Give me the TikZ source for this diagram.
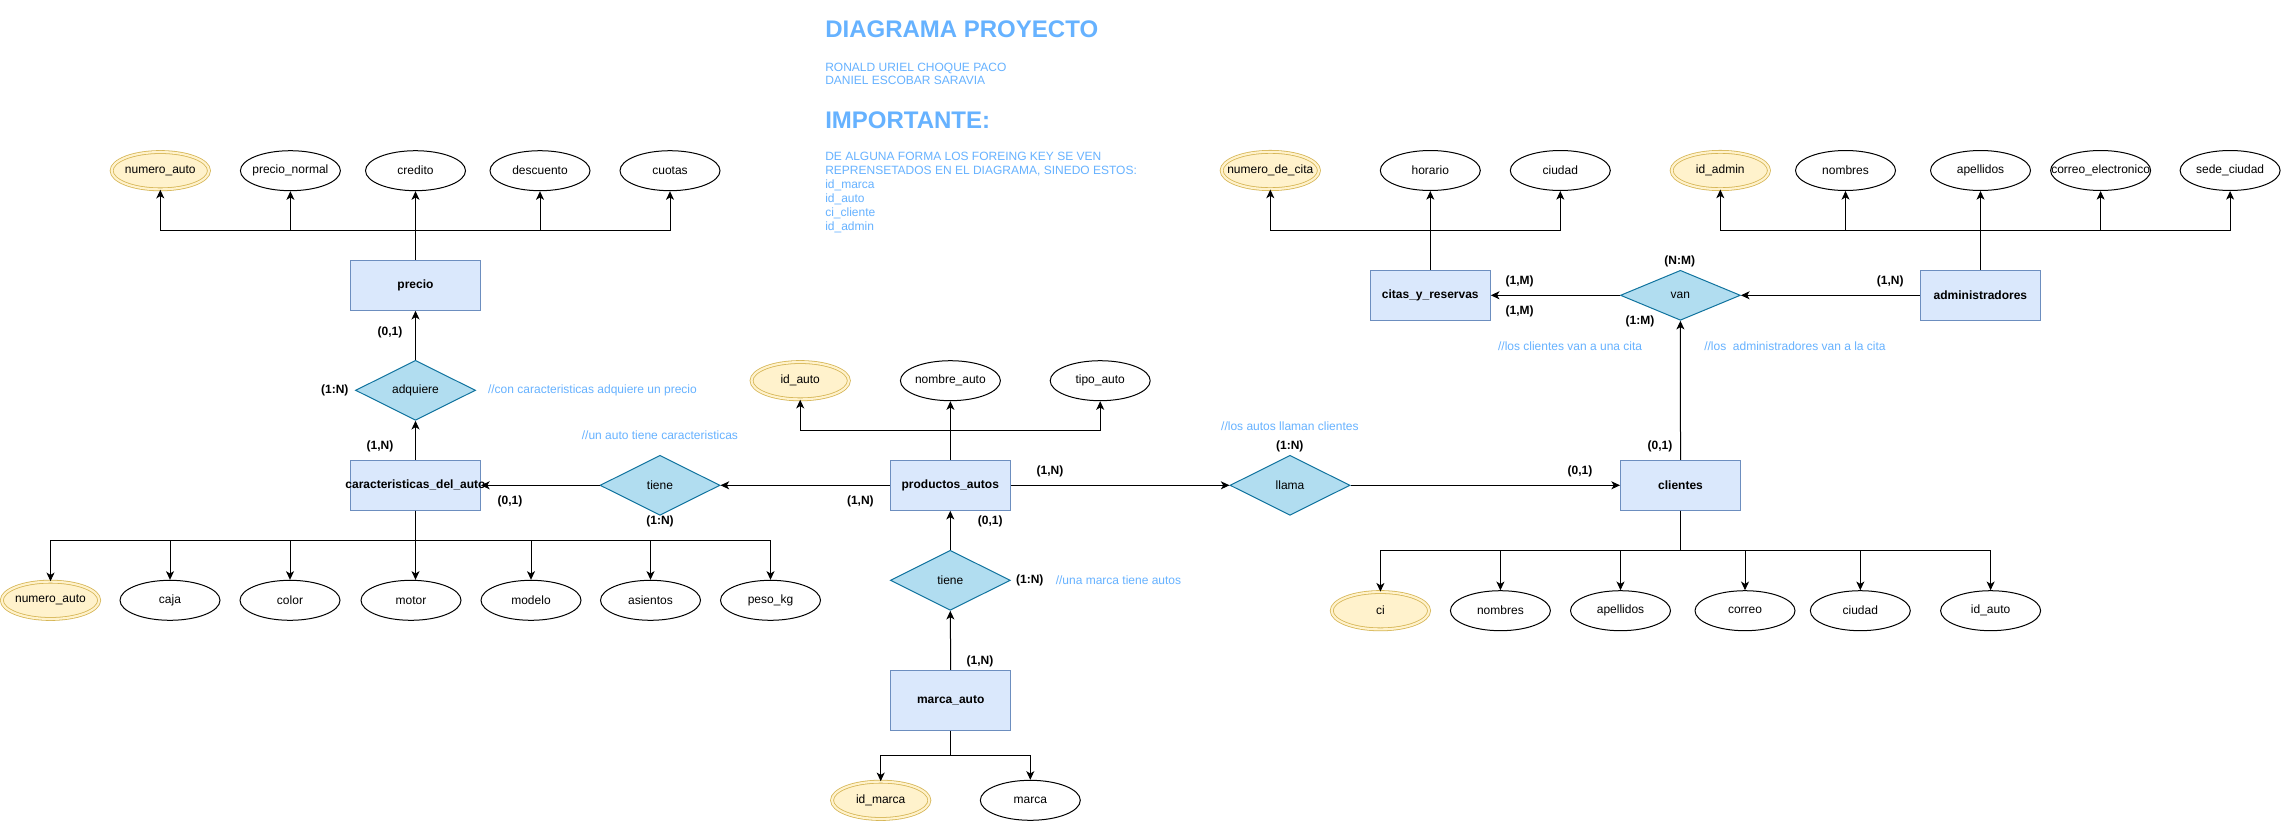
\documentclass[tikz,border=0pt]{standalone}
\usepackage{fontspec}
\setmainfont{Liberation Sans}
\usetikzlibrary{shapes.geometric,arrows.meta}
\definecolor{entfill}{HTML}{DAE8FC}
\definecolor{entdraw}{HTML}{6C8EBF}
\definecolor{relfill}{HTML}{B1DDF0}
\definecolor{reldraw}{HTML}{10739E}
\definecolor{keyfill}{HTML}{FFF2CC}
\definecolor{keydraw}{HTML}{D6B656}
\definecolor{notecol}{HTML}{66B2FF}
\newcommand\zbx[1]{\makebox[0pt][c]{#1}}
\tikzset{
 txtbase/.style={font=\fontsize{9}{10.8}\selectfont, inner sep=0pt, text=black},
 attr/.style={txtbase, ellipse, draw=black, fill=white, line width=0.75pt, minimum width=75pt, minimum height=30pt},
 keyattr/.style={txtbase, ellipse, draw=keydraw, fill=keyfill, double=keyfill, double distance=1.6pt, line width=0.6pt, minimum width=73pt, minimum height=28pt},
 entity/.style={txtbase, rectangle, draw=entdraw, fill=entfill, line width=0.75pt, minimum width=90pt, minimum height=37.5pt, font=\fontsize{9}{10.8}\selectfont\bfseries},
 rel/.style={txtbase, diamond, draw=reldraw, fill=relfill, line width=0.75pt, minimum width=90pt, minimum height=45pt},
 card/.style={txtbase, font=\fontsize{9}{10.8}\selectfont\bfseries},
 note/.style={txtbase, text=notecol, anchor=west},
 hdr/.style={inner sep=0pt, anchor=base west, text=notecol, font=\fontsize{18}{21.6}\selectfont\bfseries},
 hline/.style={inner sep=0pt, anchor=base west, text=notecol, font=\fontsize{9}{10.8}\selectfont},
 arr/.style={draw=black, line width=0.75pt, -{Stealth[length=6.5pt,width=6pt,inset=1.8pt]}},
}
\begin{document}
\begin{tikzpicture}[x=0.75pt,y=-0.75pt]
\fill[white] (0,0) rectangle (2281,821);
\useasboundingbox (0,0) rectangle (2281,821);

% ---------- header text ----------
\node[hdr] (title) at (825,37) {DIAGRAMA PROYECTO};
\node[hline] (au1) at (825,71.3) {RONALD URIEL CHOQUE PACO};
\node[hline] (au2) at (825,84.7) {DANIEL ESCOBAR SARAVIA};
\node[hdr] (imp) at (825,128.3) {IMPORTANTE:};
\node[hline] (l1) at (825,160.7) {DE ALGUNA FORMA LOS FOREING KEY SE VEN};
\node[hline] (l2) at (825,174.7) {REPRENSETADOS EN EL DIAGRAMA, SINEDO ESTOS:};
\node[hline] (l3) at (825,188.7) {id\_marca};
\node[hline] (l4) at (825,202.7) {id\_auto};
\node[hline] (l5) at (825,216.7) {ci\_cliente};
\node[hline] (l6) at (825,230.7) {id\_admin};

% ---------- coordinates of buses ----------
\coordinate (busA) at (0,230);
\coordinate (busB) at (0,540);
\coordinate (busC) at (0,430);
\coordinate (busD) at (0,755.3);
\coordinate (busE) at (0,550);

% ---------- left part ----------
\node[keyattr] (na1) at (160.3,170.7) {\zbx{numero\_auto}};
\node[attr] (pn) at (290.4,170.7) {\zbx{precio\_normal}};
\node[attr] (cred) at (415.5,170.7) {\zbx{credito}};
\node[attr] (desc) at (540,170.7) {\zbx{descuento}};
\node[attr] (cuo) at (670,170.7) {\zbx{cuotas}};

\node[entity, minimum width=97.5pt] (precio) at (415.5,285.3) {precio};
\node[rel] (adq) at (415.5,390.3) {adquiere};
\node[entity, minimum width=97.5pt] (car) at (415.5,485.3) {\zbx{caracteristicas\_del\_auto}};
\node[rel] (tiene1) at (660,485.3) {tiene};

\node[keyattr] (na2) at (50.5,600.3) {\zbx{numero\_auto}};
\node[attr] (caja) at (170,600.3) {\zbx{caja}};
\node[attr] (colorat) at (290,600.3) {\zbx{color}};
\node[attr] (motor) at (411,600.3) {\zbx{motor}};
\node[attr] (modelo) at (531,600.3) {\zbx{modelo}};
\node[attr] (asientos) at (650.5,600.3) {\zbx{asientos}};
\node[attr] (peso) at (770.5,600.3) {\zbx{peso\_kg}};

% ---------- middle part ----------
\node[keyattr] (idauto) at (800.2,380.7) {\zbx{id\_auto}};
\node[attr] (nombreauto) at (950.4,380.7) {\zbx{nombre\_auto}};
\node[attr] (tipoauto) at (1100.2,380.7) {\zbx{tipo\_auto}};
\node[entity] (prod) at (950.3,485.3) {productos\_autos};
\node[rel] (tiene2) at (950.3,580.3) {tiene};
\node[entity, minimum height=45pt] (marcaauto) at (950.7,700.3) {marca\_auto};
\node[keyattr] (idmarca) at (880.7,800.3) {\zbx{id\_marca}};
\node[attr] (marca) at (1030.3,800.3) {\zbx{marca}};
\node[rel] (llama) at (1290,485.3) {llama};

% ---------- right part ----------
\node[keyattr] (ncita) at (1270.3,170.5) {\zbx{numero\_de\_cita}};
\node[attr] (hor) at (1430.3,170.5) {\zbx{horario}};
\node[attr] (ciu) at (1560.3,170.5) {\zbx{ciudad}};
\node[entity] (citas) at (1430.3,295.3) {citas\_y\_reservas};
\node[rel, minimum height=37.5pt] (van) at (1680.4,295.3) {van};
\node[entity] (admin) at (1980.4,295.3) {administradores};
\node[keyattr] (ida) at (1720.3,170.5) {\zbx{id\_admin}};
\node[attr] (anom) at (1845.5,170.5) {\zbx{nombres}};
\node[attr] (aape) at (1980.5,170.5) {\zbx{apellidos}};
\node[attr] (acor) at (2100.6,170.5) {\zbx{correo\_electronico}};
\node[attr] (ased) at (2230.1,170.5) {\zbx{sede\_ciudad}};

\node[entity] (cli) at (1680.5,485.3) {clientes};
\node[keyattr] (ci) at (1380.4,610.7) {\zbx{ci}};
\node[attr] (cnom) at (1500.4,610.7) {\zbx{nombres}};
\node[attr] (cape) at (1620.5,610.7) {\zbx{apellidos}};
\node[attr] (ccor) at (1745,610.7) {\zbx{correo}};
\node[attr] (cciu) at (1860.3,610.7) {\zbx{ciudad}};
\node[attr] (cida) at (1990.6,610.7) {\zbx{id\_auto}};

% ---------- attribute connectors ----------
\foreach \t in {na1,pn,cred,desc,cuo}
  \draw[arr] (precio.north) -- (precio.north |- busA) -| (\t.south);
\foreach \t in {na2,caja,colorat,modelo,asientos,peso}
  \draw[arr] (car.south) -- (car.south |- busB) -| (\t.north);
\draw[arr] (car.south) -- (car.south |- motor.north);
\foreach \t in {idauto,nombreauto,tipoauto}
  \draw[arr] (prod.north) -- (prod.north |- busC) -| (\t.south);
\foreach \t in {idmarca,marca}
  \draw[arr] (marcaauto.south) -- (marcaauto.south |- busD) -| (\t.north);
\foreach \t in {ncita,hor,ciu}
  \draw[arr] (citas.north) -- (citas.north |- busA) -| (\t.south);
\foreach \t in {ida,anom,aape,acor,ased}
  \draw[arr] (admin.north) -- (admin.north |- busA) -| (\t.south);
\foreach \t in {ci,cnom,cape,ccor,cciu,cida}
  \draw[arr] (cli.south) -- (cli.south |- busE) -| (\t.north);

% ---------- relationship connectors ----------
\draw[arr] (adq.north) -- (precio.south);
\draw[arr] (car.north) -- (adq.south);
\draw[arr] (tiene1.west) -- (car.east);
\draw[arr] (prod.west) -- (tiene1.east);
\draw[arr] (tiene2.north) -- (prod.south);
\draw[arr] (marcaauto.north) -- (tiene2.south);
\draw[arr] (prod.east) -- (llama.west);
\draw[arr] (llama.east) -- (cli.west);
\draw[arr] (cli.north) -- (van.south);
\draw[arr] (van.west) -- (citas.east);
\draw[arr] (admin.west) -- (van.east);

% ---------- cardinalities ----------
\node[card] (c1) at (390,332.3) {(0,1)};
\node[card] (c2) at (334.8,390.3) {(1:N)};
\node[card] (c3) at (380,446) {(1,N)};
\node[card] (c4) at (510,501) {(0,1)};
\node[card] (c5) at (660,521.7) {(1:N)};
\node[card] (c6) at (860.4,501) {(1,N)};
\node[card] (c7) at (1050,471) {(1,N)};
\node[card] (c8) at (990.2,521) {(0,1)};
\node[card] (c9) at (1029.8,580.7) {(1:N)};
\node[card] (c10) at (980,661) {(1,N)};
\node[card] (c11) at (1289.8,446) {(1:N)};
\node[card] (c12) at (1580,471.7) {(0,1)};
\node[card] (c13) at (1660,446.2) {(0,1)};
\node[card] (c14) at (1519.7,281) {(1,M)};
\node[card] (c15) at (1519.7,311) {(1,M)};
\node[card] (c16) at (1679.7,261) {(N:M)};
\node[card] (c17) at (1640,321) {(1:M)};
\node[card] (c18) at (1890.3,281) {(1,N)};

% ---------- comments ----------
\node[note] (n1) at (487.8,390.5) {//con caracteristicas adquiere un precio};
\node[note] (n2) at (581.6,435.7) {//un auto tiene caracteristicas};
\node[note] (n3) at (1055.5,580.7) {//una marca tiene autos};
\node[note] (n4) at (1220.9,426) {//los autos llaman clientes};
\node[note] (n5) at (1497.8,346) {//los clientes van a una cita};
\node[note] (n6) at (1704,346) {//los\ \ administradores van a la cita};
\end{tikzpicture}
\end{document}
